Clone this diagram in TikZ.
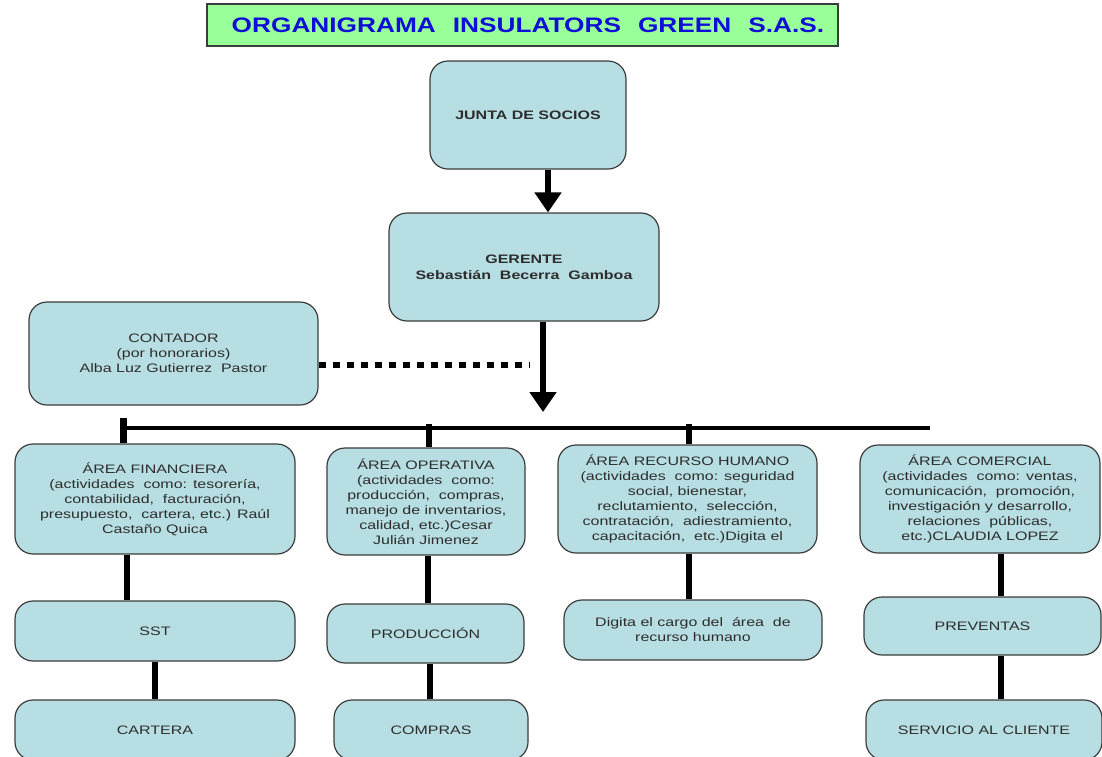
\documentclass[tikz,border=0pt]{standalone}
\usepackage{fontspec}
\setmainfont{Liberation Sans}[FakeStretch=1.3]
\newfontfamily\titlefont{Liberation Sans}[FakeStretch=1.25]
\usetikzlibrary{arrows.meta}
\definecolor{boxblue}{RGB}{183,222,226}
\definecolor{boxline}{RGB}{60,60,60}
\definecolor{txt}{RGB}{45,45,45}
\definecolor{titlegreen}{RGB}{153,255,153}
\definecolor{titleblue}{RGB}{15,15,215}
\begin{document}
\begin{tikzpicture}[x=1pt,y=-1pt,
  box/.style={draw=boxline, line width=1.2pt, fill=boxblue, rounded corners=18pt,
    align=center, text=txt, inner sep=2pt, font=\fontsize{12.3}{15}\selectfont},
  boldbox/.style={box, font=\bfseries\fontsize{12.3}{16}\selectfont},
  conn/.style={line width=6pt, black},
  busline/.style={line width=4.5pt, black},
  arr/.style={line width=6pt, black, -{Triangle[width=26pt,length=20pt]}},
  dotline/.style={line width=6pt, black, dash pattern=on 7pt off 7pt}
]
\useasboundingbox (0,0) rectangle (1102,756);
\clip (0,0) rectangle (1102,756);

% title
\node[draw=boxline, line width=1.2pt, fill=titlegreen, minimum width=631pt,
  minimum height=42pt, text=titleblue, inner sep=0pt,
  font=\titlefont\bfseries\fontsize{21}{25}\selectfont] (title) at (522.5,25)
  {\hspace*{11pt}ORGANIGRAMA\hspace{17pt}INSULATORS\hspace{17pt}GREEN\hspace{17pt}S.A.S.};

% top levels
\node[boldbox, minimum width=196pt, minimum height=108pt] (junta) at (528,115) {JUNTA DE SOCIOS};
\node[boldbox, minimum width=270pt, minimum height=108pt] (gerente) at (524,267)
  {GERENTE\\Sebastián\ \ Becerra\ \ Gamboa};
\node[box, minimum width=289pt, minimum height=103pt] (contador) at (173.5,353.5)
  {CONTADOR\\(por honorarios)\\Alba Luz Gutierrez\ \ Pastor};

% areas
\node[box, minimum width=280pt, minimum height=110pt] (fin) at (155,499)
  {ÁREA FINANCIERA\\(actividades\ \ como: tesorería,\\contabilidad,\ \ facturación,\\presupuesto,\ \ cartera, etc.) Raúl\\Castaño Quica};
\node[box, minimum width=198pt, minimum height=107pt] (op) at (426,501.5)
  {ÁREA OPERATIVA\\(actividades\ \ como:\\producción,\ \ compras,\\manejo de inventarios,\\calidad, etc.)Cesar\\Julián Jimenez};
\node[box, minimum width=259pt, minimum height=108pt] (rh) at (687.5,499)
  {ÁREA RECURSO HUMANO\\(actividades\ \ como: seguridad\\social, bienestar,\\reclutamiento,\ \ selección,\\contratación,\ \ adiestramiento,\\capacitación,\ \ etc.)Digita el};
\node[box, minimum width=240pt, minimum height=108pt] (com) at (980,499)
  {ÁREA COMERCIAL\\(actividades\ \ como: ventas,\\comunicación,\ \ promoción,\\investigación y desarrollo,\\relaciones\ \ públicas,\\etc.)CLAUDIA LOPEZ};

% second row
\node[box, minimum width=280pt, minimum height=60pt] (sst) at (155,631) {SST};
\node[box, minimum width=197pt, minimum height=59pt] (prod) at (425.5,633.5) {PRODUCCIÓN};
\node[box, minimum width=258pt, minimum height=60pt] (digita) at (693,630)
  {Digita el cargo del\ \ área\ \ de\\recurso humano};
\node[box, minimum width=237pt, minimum height=58pt] (prev) at (982.5,626) {PREVENTAS};

% third row
\node[box, minimum width=280pt, minimum height=60pt] (cartera) at (155,730) {CARTERA};
\node[box, minimum width=194pt, minimum height=60pt] (compras) at (431,730) {COMPRAS};
\node[box, minimum width=236pt, minimum height=60pt] (serv) at (984,730) {SERVICIO AL CLIENTE};

% connectors
\draw[arr] ([xshift=20pt]junta.south) -- ([xshift=20pt]junta.south |- gerente.north);
\coordinate (gtip) at (543,412);
\draw[arr] (gerente.south -| gtip) -- (gtip);
\coordinate (dotend) at (530,365);
\draw[dotline] (contador.east |- dotend) -- (dotend);

\coordinate (busL) at (123,428);
\coordinate (busR) at (930,428);
\draw[busline] (busL) -- (busR);
\draw[conn, line width=7pt] ([yshift=10pt]busL) -- (busL |- fin.north);
\draw[conn] ([xshift=3pt,yshift=4pt]op.north |- busL) -- ([xshift=3pt]op.north);
\draw[conn] ([xshift=1pt,yshift=4pt]rh.north |- busL) -- ([xshift=1pt]rh.north);

\draw[conn] ([xshift=-28pt]fin.south) -- ([xshift=-28pt]fin.south |- sst.north);
\draw[conn] (sst.south) -- (cartera.north);
\draw[conn] ([xshift=2pt]op.south) -- ([xshift=2pt]op.south |- prod.north);
\draw[conn] ([xshift=4pt]prod.south) -- ([xshift=4pt]prod.south |- compras.north);
\draw[conn] ([xshift=1pt]rh.south) -- ([xshift=1pt]rh.south |- digita.north);
\draw[conn] ([xshift=21pt]com.south) -- ([xshift=21pt]com.south |- prev.north);
\draw[conn] ([xshift=18.5pt]prev.south) -- ([xshift=18.5pt]prev.south |- serv.north);
\end{tikzpicture}
\end{document}
